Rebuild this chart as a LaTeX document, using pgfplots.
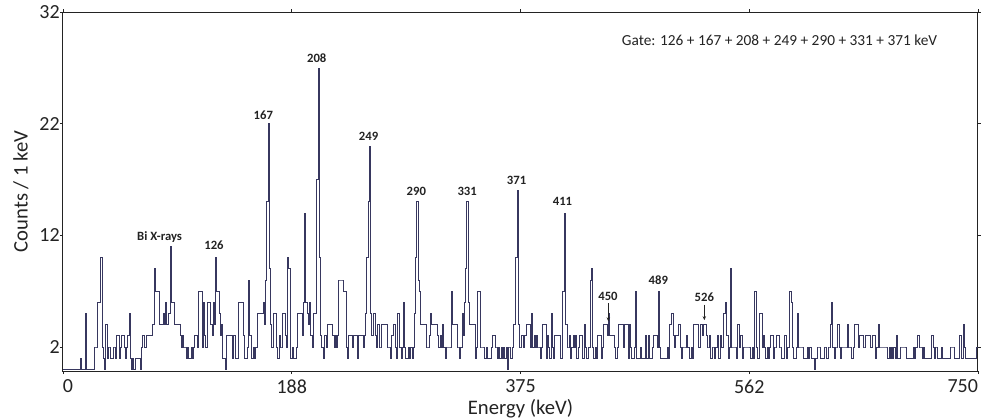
\documentclass[border=0pt]{standalone}
\usepackage{fontspec}
\setmainfont{Carlito}
\usepackage{pgfplots}
\pgfplotsset{compat=1.18}
\usetikzlibrary{arrows.meta}
\definecolor{histc}{RGB}{55,55,95}
\definecolor{axc}{RGB}{35,35,35}

\begin{document}
\begin{tikzpicture}
\useasboundingbox (-47.25pt,-36pt) rectangle (690pt,278.25pt);
\begin{axis}[
  at={(0pt,0pt)}, anchor=south west,
  width=686.25pt, height=269.25pt, scale only axis,
  xmin=0, xmax=750, ymin=-0.15, ymax=32,
  xtick={0,187.5,375,562.5,750},
  xticklabels={\makebox[0pt][l]{0},188,375,562,\makebox[0pt][r]{750}},
  ytick={2,12,22,32},
  tick align=outside, major tick length=2.25pt,
  tick style={axc, line width=0.5pt},
  axis line style={axc, line width=0.75pt},
  /pgf/number format/assume math mode=true,
  ticklabel style={font=\fontsize{15}{18}\selectfont, text=axc},
  xticklabel style={anchor=north, inner sep=0pt, yshift=-4pt},
  yticklabel style={anchor=east, inner sep=0pt, xshift=0pt},
  xlabel={Energy (keV)}, ylabel={Counts / 1 keV},
  label style={font=\fontsize{15.5}{18}\selectfont, text=axc},
  xlabel style={at={(axis description cs:0.5,-0.078)}, anchor=north, inner sep=0pt},
  ylabel style={at={(axis description cs:-0.046,0.5)}, anchor=center, inner sep=0pt},
]
\addplot[const plot, draw=histc, line width=0.5pt] coordinates {
(0,0)(1,0)(2,0)(3,0)(4,0)(5,0)(6,0)(7,0)(8,0)(9,0)
(10,0)(11,0)(12,0)(13,0)(14,1)(15,0)(16,0)(17,0)(18,5)(19,0)
(20,0)(21,0)(22,0)(23,0)(24,0)(25,0)(26,2)(27,2)(28,6)(29,6)
(30,6)(31,10)(32,2)(33,1)(34,0)(35,4)(36,1)(37,2)(38,2)(39,1)
(40,1)(41,2)(42,2)(43,1)(44,3)(45,3)(46,1)(47,2)(48,3)(49,3)
(50,2)(51,1)(52,2)(53,3)(54,5)(55,1)(56,0)(57,1)(58,0)(59,1)
(60,1)(61,1)(62,1)(63,0)(64,2)(65,3)(66,3)(67,2)(68,3)(69,3)
(70,3)(71,3)(72,3)(73,4)(74,4)(75,9)(76,7)(77,7)(78,7)(79,4)
(80,4)(81,4)(82,5)(83,4)(84,6)(85,4)(86,5)(87,5)(88,11)(89,6)
(90,6)(91,4)(92,4)(93,4)(94,4)(95,4)(96,3)(97,2)(98,3)(99,2)
(100,2)(101,1)(102,2)(103,1)(104,1)(105,2)(106,1)(107,2)(108,3)(109,3)
(110,2)(111,7)(112,7)(113,7)(114,2)(115,6)(116,3)(117,2)(118,6)(119,6)
(120,6)(121,4)(122,3)(123,6)(124,4)(125,10)(126,7)(127,7)(128,5)(129,3)
(130,4)(131,1)(132,1)(133,0)(134,3)(135,3)(136,3)(137,3)(138,3)(139,1)
(140,3)(141,1)(142,1)(143,1)(144,6)(145,6)(146,6)(147,6)(148,3)(149,1)
(150,1)(151,2)(152,8)(153,3)(154,1)(155,1)(156,2)(157,1)(158,2)(159,5)
(160,5)(161,5)(162,5)(163,5)(164,6)(165,4)(166,8)(167,15)(168,22)(169,9)
(170,4)(171,2)(172,5)(173,5)(174,5)(175,2)(176,1)(177,3)(178,2)(179,2)
(180,5)(181,5)(182,3)(183,2)(184,10)(185,9)(186,1)(187,1)(188,2)(189,1)
(190,1)(191,2)(192,5)(193,5)(194,5)(195,5)(196,3)(197,6)(198,14)(199,6)
(200,5)(201,4)(202,6)(203,3)(204,2)(205,5)(206,5)(207,5)(208,17)(209,27)
(210,10)(211,3)(212,2)(213,1)(214,3)(215,3)(216,2)(217,4)(218,4)(219,4)
(220,4)(221,3)(222,2)(223,3)(224,2)(225,3)(226,8)(227,8)(228,8)(229,8)
(230,7)(231,7)(232,2)(233,1)(234,3)(235,3)(236,3)(237,2)(238,3)(239,3)
(240,3)(241,1)(242,3)(243,3)(244,3)(245,3)(246,2)(247,3)(248,5)(249,10)
(250,15)(251,20)(252,5)(253,3)(254,5)(255,5)(256,3)(257,2)(258,4)(259,2)
(260,2)(261,4)(262,4)(263,4)(264,4)(265,4)(266,2)(267,2)(268,1)(269,3)
(270,3)(271,4)(272,2)(273,1)(274,5)(275,5)(276,2)(277,1)(278,2)(279,6)
(280,2)(281,1)(282,1)(283,2)(284,1)(285,2)(286,1)(287,2)(288,5)(289,10)
(290,15)(291,8)(292,7)(293,4)(294,4)(295,4)(296,4)(297,4)(298,2)(299,2)
(300,3)(301,5)(302,4)(303,4)(304,4)(305,4)(306,4)(307,3)(308,2)(309,3)
(310,2)(311,4)(312,2)(313,1)(314,2)(315,2)(316,2)(317,2)(318,7)(319,4)
(320,4)(321,4)(322,4)(323,2)(324,2)(325,1)(326,2)(327,5)(328,3)(329,6)
(330,9)(331,15)(332,6)(333,4)(334,4)(335,4)(336,4)(337,4)(338,1)(339,2)
(340,7)(341,7)(342,2)(343,2)(344,2)(345,1)(346,1)(347,2)(348,1)(349,1)
(350,1)(351,2)(352,3)(353,3)(354,2)(355,2)(356,1)(357,2)(358,1)(359,2)
(360,1)(361,2)(362,1)(363,2)(364,0)(365,2)(366,2)(367,1)(368,2)(369,4)
(370,4)(371,10)(372,16)(373,4)(374,2)(375,2)(376,3)(377,2)(378,3)(379,3)
(380,4)(381,4)(382,4)(383,2)(384,5)(385,2)(386,3)(387,2)(388,3)(389,2)
(390,2)(391,1)(392,2)(393,4)(394,4)(395,4)(396,1)(397,3)(398,2)(399,1)
(400,5)(401,2)(402,1)(403,3)(404,3)(405,3)(406,3)(407,3)(408,1)(409,7)
(410,7)(411,14)(412,4)(413,2)(414,2)(415,3)(416,1)(417,2)(418,3)(419,2)
(420,3)(421,1)(422,2)(423,3)(424,3)(425,3)(426,1)(427,4)(428,2)(429,1)
(430,1)(431,2)(432,8)(433,9)(434,2)(435,1)(436,2)(437,1)(438,3)(439,3)
(440,3)(441,1)(442,2)(443,4)(444,4)(445,4)(446,3)(447,5)(448,3)(449,3)
(450,3)(451,3)(452,2)(453,1)(454,2)(455,4)(456,4)(457,4)(458,4)(459,2)
(460,4)(461,4)(462,4)(463,1)(464,4)(465,2)(466,1)(467,1)(468,2)(469,7)
(470,1)(471,1)(472,1)(473,2)(474,1)(475,1)(476,1)(477,3)(478,1)(479,1)
(480,3)(481,1)(482,1)(483,2)(484,3)(485,3)(486,3)(487,2)(488,7)(489,2)
(490,1)(491,1)(492,1)(493,1)(494,1)(495,2)(496,1)(497,4)(498,4)(499,5)
(500,3)(501,2)(502,3)(503,3)(504,4)(505,4)(506,2)(507,1)(508,2)(509,2)
(510,2)(511,3)(512,2)(513,1)(514,1)(515,2)(516,1)(517,4)(518,4)(519,4)
(520,4)(521,2)(522,4)(523,4)(524,3)(525,4)(526,4)(527,3)(528,2)(529,2)
(530,3)(531,1)(532,2)(533,2)(534,1)(535,2)(536,3)(537,1)(538,1)(539,3)
(540,2)(541,5)(542,5)(543,6)(544,3)(545,1)(546,2)(547,9)(548,2)(549,2)
(550,2)(551,2)(552,1)(553,4)(554,2)(555,3)(556,3)(557,1)(558,2)(559,2)
(560,2)(561,2)(562,2)(563,1)(564,1)(565,2)(566,1)(567,7)(568,2)(569,1)
(570,1)(571,5)(572,5)(573,2)(574,3)(575,2)(576,1)(577,2)(578,1)(579,2)
(580,3)(581,3)(582,1)(583,2)(584,2)(585,3)(586,3)(587,2)(588,2)(589,1)
(590,1)(591,3)(592,3)(593,1)(594,2)(595,7)(596,7)(597,6)(598,2)(599,1)
(600,1)(601,2)(602,5)(603,2)(604,2)(605,2)(606,2)(607,1)(608,1)(609,1)
(610,2)(611,1)(612,2)(613,1)(614,1)(615,1)(616,0)(617,1)(618,2)(619,2)
(620,2)(621,1)(622,1)(623,1)(624,2)(625,2)(626,1)(627,2)(628,2)(629,4)
(630,6)(631,2)(632,1)(633,2)(634,2)(635,4)(636,2)(637,1)(638,2)(639,2)
(640,2)(641,2)(642,2)(643,4)(644,2)(645,2)(646,1)(647,1)(648,2)(649,4)
(650,4)(651,4)(652,2)(653,3)(654,3)(655,3)(656,2)(657,2)(658,3)(659,3)
(660,3)(661,3)(662,2)(663,3)(664,3)(665,3)(666,1)(667,2)(668,4)(669,2)
(670,2)(671,2)(672,2)(673,2)(674,2)(675,2)(676,1)(677,2)(678,1)(679,2)
(680,1)(681,2)(682,1)(683,3)(684,1)(685,1)(686,2)(687,2)(688,2)(689,2)
(690,2)(691,1)(692,1)(693,1)(694,1)(695,1)(696,1)(697,2)(698,1)(699,2)
(700,3)(701,3)(702,2)(703,2)(704,1)(705,2)(706,1)(707,1)(708,1)(709,1)
(710,1)(711,1)(712,3)(713,2)(714,1)(715,2)(716,2)(717,1)(718,1)(719,1)
(720,2)(721,1)(722,1)(723,1)(724,1)(725,1)(726,1)(727,2)(728,2)(729,2)
(730,2)(731,1)(732,1)(733,1)(734,1)(735,3)(736,1)(737,1)(738,4)(739,2)
(740,1)(741,1)(742,1)(743,1)(744,1)(745,1)(746,1)(747,1)(748,1)(749,2)
(750,2)
};
% peak labels
\begin{scope}[every node/.style={font=\bfseries\fontsize{9.5}{11}\selectfont, text=axc, inner sep=0pt}]
\node[anchor=base] at (axis cs:79.2,11.5) {Bi X-rays};
\node at (axis cs:123.8,11.13) {126};
\node at (axis cs:164.2,22.8) {167};
\node at (axis cs:208,27.87) {208};
\node at (axis cs:250.5,20.9) {249};
\node at (axis cs:289.6,15.9) {290};
\node at (axis cs:331.3,15.97) {331};
\node at (axis cs:371.8,16.88) {371};
\node at (axis cs:409.4,15.0) {411};
\node at (axis cs:446.7,6.5) {450};
\node at (axis cs:488,8.0) {489};
\node at (axis cs:525.7,6.43) {526};
\end{scope}
\draw[axc, line width=0.5pt, -{Stealth[length=3pt,width=2.5pt]}] (axis cs:447,5.9) -- (axis cs:447,4.3);
\draw[axc, line width=0.5pt, -{Stealth[length=3pt,width=2.5pt]}] (axis cs:525.7,5.8) -- (axis cs:525.7,4.4);
\node[font=\fontsize{11.5}{14}\selectfont, text=axc, inner sep=0pt] at (axis cs:587.3,29.44) {Gate: 126 + 167 + 208 + 249 + 290 + 331 + 371 keV};
\end{axis}
\end{tikzpicture}
\end{document}
